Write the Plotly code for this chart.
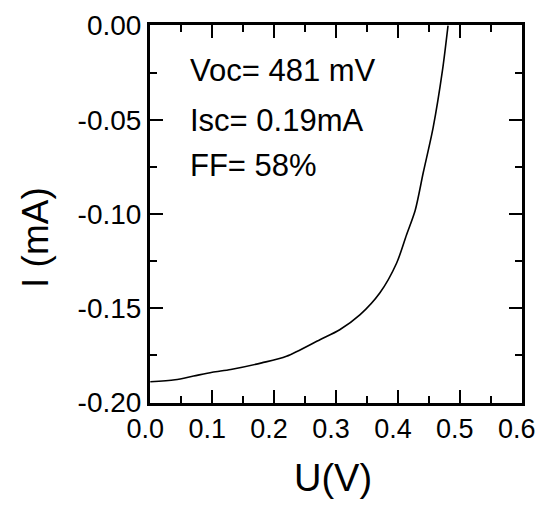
import plotly.graph_objects as go

voltage = [0.0, 0.04, 0.07, 0.10, 0.13, 0.18, 0.22, 0.274, 0.306, 0.339, 0.371, 0.398,
           0.414, 0.428, 0.441, 0.457, 0.472, 0.481]
current = [-0.189, -0.188, -0.186, -0.184, -0.1825, -0.179, -0.1755, -0.1667, -0.1614,
           -0.1534, -0.1418, -0.126, -0.111, -0.098, -0.078, -0.054, -0.0238, 0.0]

x_ticks = [0.0, 0.1, 0.2, 0.3, 0.4, 0.5, 0.6]
x_tick_labels = ["0.0", "0.1", "0.2", "0.3", "0.4", "0.5", "0.6"]
y_ticks = [0.0, -0.05, -0.10, -0.15, -0.20]
y_tick_labels = ["0.00", "-0.05", "-0.10", "-0.15", "-0.20"]

labels = ["Voc= 481 mV", "Isc= 0.19mA", "FF= 58%"]
x_title = "U(V)"
y_title = "I (mA)"

FONT = "Liberation Sans, Arial, sans-serif"

fig = go.Figure()
fig.add_trace(go.Scatter(x=voltage, y=current, mode="lines",
                         line=dict(color="black", width=1.6, shape="spline", smoothing=0.8),
                         showlegend=False))

axis_common = dict(
    showgrid=False, zeroline=False, showline=True, linecolor="black", linewidth=3,
    mirror="ticks", ticks="inside", ticklen=13, tickwidth=2, tickcolor="black",
    tickmode="array", ticklabeloverflow="allow", automargin=False,
)

fig.update_xaxes(range=[-0.0005, 0.6005], tickvals=x_ticks, ticktext=x_tick_labels,
                 tickfont=dict(family=FONT, size=27, color="black"), ticklabelshift=-5,
                 minor=dict(ticks="inside", ticklen=7, tickwidth=2, tickmode="linear",
                            tick0=0, dtick=0.05, tickcolor="black"),
                 **axis_common)
fig.update_yaxes(range=[-0.2003, 0.0003], tickvals=y_ticks, ticktext=y_tick_labels,
                 tickfont=dict(family=FONT, size=28, color="black"),
                 minor=dict(ticks="inside", ticklen=7, tickwidth=2, tickmode="linear",
                            tick0=0, dtick=0.025, tickcolor="black"),
                 **axis_common)

ys = [70, 120, 165]
for txt, yp in zip(labels, ys):
    fig.add_annotation(text=txt, xref="paper", yref="paper",
                       x=(188 - 150) / 372, y=1 - (yp - 25) / 378,
                       xanchor="left", yanchor="middle", showarrow=False,
                       font=dict(family=FONT, size=31, color="black"))

fig.add_annotation(text=x_title, xref="paper", yref="paper",
                   x=(333 - 150) / 372, y=-(478 - 403) / 378,
                   xanchor="center", yanchor="middle", showarrow=False,
                   font=dict(family=FONT, size=38, color="black"))
fig.add_annotation(text=y_title, xref="paper", yref="paper",
                   x=-(150 - 35) / 372, y=1 - (238 - 25) / 378,
                   xanchor="center", yanchor="middle", showarrow=False, textangle=-90,
                   font=dict(family=FONT, size=37, color="black"))

fig.update_layout(
    width=537, height=507,
    margin=dict(l=150, r=15, t=25, b=104, autoexpand=False),
    plot_bgcolor="white", paper_bgcolor="white",
)

fig.write_html("out.html")
